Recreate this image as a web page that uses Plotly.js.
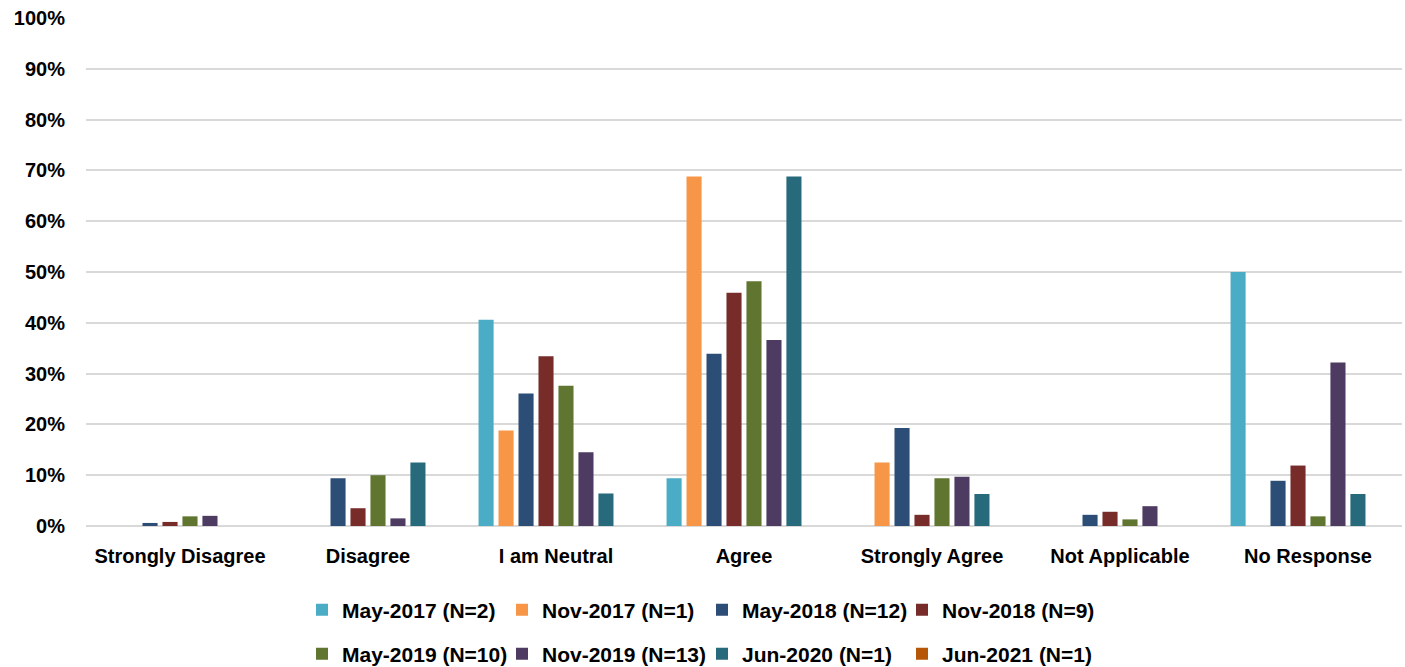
<!DOCTYPE html>
<html>
<head>
<meta charset="utf-8">
<script src="https://cdn.plot.ly/plotly-3.0.1.min.js"></script>
<style>html,body{margin:0;padding:0;background:#fff;}#chart{width:1405px;height:667px;}</style>
</head>
<body>
<div id="chart"></div>
<script>
var categories = ["Strongly Disagree", "Disagree", "I am Neutral", "Agree", "Strongly Agree", "Not Applicable", "No Response"];
var seriesNames = ["May-2017 (N=2)", "Nov-2017 (N=1)", "May-2018 (N=12)", "Nov-2018 (N=9)",
                   "May-2019 (N=10)", "Nov-2019 (N=13)", "Jun-2020 (N=1)", "Jun-2021 (N=1)"];
var may2017 = [0, 0, 0.406, 0.094, 0, 0, 0.50];
var nov2017 = [0, 0, 0.188, 0.688, 0.125, 0, 0];
var may2018 = [0.006, 0.094, 0.261, 0.339, 0.193, 0.022, 0.089];
var nov2018 = [0.008, 0.035, 0.334, 0.459, 0.022, 0.028, 0.119];
var may2019 = [0.019, 0.100, 0.276, 0.482, 0.094, 0.013, 0.019];
var nov2019 = [0.020, 0.015, 0.145, 0.366, 0.097, 0.039, 0.322];
var jun2020 = [0, 0.125, 0.064, 0.688, 0.063, 0, 0.063];
var jun2021 = [0, 0, 0, 0, 0, 0, 0];
var colors = ["#4BACC6", "#F79646", "#2C4D75", "#772C2A", "#5F7530", "#4D3B62", "#276A7C", "#B65708"];

var values = [may2017, nov2017, may2018, nov2018, may2019, nov2019, jun2020, jun2021];
var traces = values.map(function (v, i) {
  return {
    type: "bar",
    name: seriesNames[i],
    x: categories,
    y: v,
    marker: { color: colors[i] },
    legend: i < 4 ? "legend" : "legend2",
    hoverinfo: "x+y+name"
  };
});

var font = { family: "Liberation Sans, Arial, sans-serif", size: 20, color: "#000" };
var legendCommon = {
  orientation: "h",
  xref: "container",
  yref: "container",
  xanchor: "left",
  yanchor: "middle",
  x: 302 / 1405,
  font: { family: font.family, size: 21, color: "#000", weight: "bold" },
  entrywidth: 155,
  entrywidthmode: "pixels",
  bgcolor: "rgba(0,0,0,0)",
  traceorder: "normal"
};
var legend1 = Object.assign({}, legendCommon, { y: 1 - 610 / 667 });
var legend2 = Object.assign({}, legendCommon, { y: 1 - 654 / 667 });

var layout = {
  width: 1405,
  height: 667,
  margin: { l: 86, r: 3, t: 18, b: 141, autoexpand: false },
  paper_bgcolor: "#fff",
  plot_bgcolor: "#fff",
  barmode: "group",
  bargap: 0.15,
  bargroupgap: 0.245,
  showlegend: true,
  legend: legend1,
  legend2: legend2,
  font: font,
  xaxis: {
    type: "category",
    showgrid: false,
    showline: false,
    ticks: "",
    tickfont: { family: font.family, size: 20, color: "#000", weight: "bold" },
    ticklabelstandoff: 16
  },
  yaxis: {
    range: [0, 1],
    dtick: 0.1,
    tick0: 0,
    tickformat: ".0%",
    showgrid: true,
    gridcolor: "#d9d9d9",
    gridwidth: 2,
    zeroline: true,
    zerolinecolor: "#d9d9d9",
    zerolinewidth: 2,
    showline: false,
    ticks: "",
    tickfont: { family: font.family, size: 20, color: "#000", weight: "bold" },
    ticklabelstandoff: 20
  }
};

Plotly.newPlot("chart", traces, layout, { displayModeBar: false, staticPlot: true });
</script>
</body>
</html>
